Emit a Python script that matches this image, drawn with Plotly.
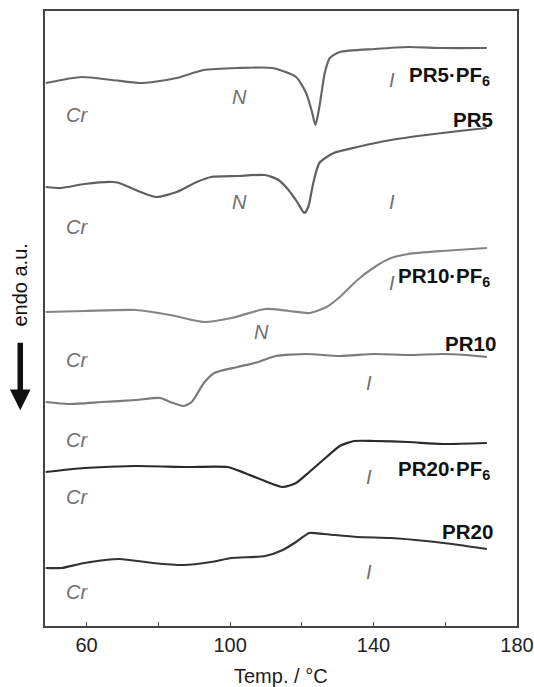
import plotly.graph_objects as go

# ---- data (temperature in °C, heat flow in arbitrary units, endo down) ----
t_pr5pf6 = [48.6, 58.6, 67.1, 74.8, 78.5, 85.1, 92.7, 102.1, 111.8, 118.4, 121.2, 122.7, 123.8,
            124.9, 126.4, 127.8, 130.6, 140.3, 149.7, 159.1, 171.6]
s_pr5pf6 = [543, 549, 546, 543, 544, 548, 556, 558, 558, 549, 533, 516, 501,
            519, 553, 568, 574, 577, 579, 578, 578]

t_pr5 = [48.6, 52.9, 59.4, 67.1, 69.1, 73.7, 79.4, 85.1, 90.7, 94.7, 102.1, 109.8, 113.5,
         116.3, 118.9, 120.7, 121.8, 123.2, 124.9, 128.9, 135.5, 144.9, 154.6, 163.9, 171.6]
s_pr5 = [439, 438, 442, 444, 443, 436, 429, 434, 444, 449, 450, 451, 446,
         436, 423, 413, 419, 443, 463, 473, 479, 486, 491, 495, 498]

t_pr10pf6 = [48.6, 59.4, 73.7, 83.3, 92.7, 100.4, 109.8, 116.4, 122.1, 126.9, 130.6,
             135.5, 140.3, 144.9, 149.7, 159.1, 171.6]
s_pr10pf6 = [314, 315, 316, 311, 304, 308, 317, 315, 313, 319, 329,
             346, 359, 368, 372, 375, 378]

t_pr10 = [48.6, 54.9, 64.3, 73.7, 80.5, 83.3, 87.0, 89.3, 92.7, 95.6, 102.1, 107.8,
          112.7, 121.2, 130.6, 140.3, 149.7, 159.1, 165.9, 171.6]
s_pr10 = [224, 222, 224, 226, 228, 224, 220, 224, 243, 253, 259, 264,
          270, 272, 270, 272, 271, 272, 271, 269]

t_pr20pf6 = [48.6, 59.4, 73.7, 87.9, 99.3, 104.1, 109.0, 114.7, 118.4, 122.1, 126.9,
             130.6, 134.6, 140.3, 149.7, 159.1, 171.6]
s_pr20pf6 = [154, 158, 160, 159, 159, 153, 146, 139, 143, 154, 169,
             180, 185, 185, 184, 182, 183]

t_pr20 = [48.6, 52.9, 59.4, 69.1, 78.5, 87.0, 94.7, 100.4, 109.8, 114.7, 118.4, 122.1,
          126.1, 135.5, 144.9, 154.6, 163.9, 171.6]
s_pr20 = [58, 58, 63, 67, 63, 61, 64, 68, 70, 76, 84, 93,
          92, 89, 88, 85, 81, 77]

series_names = ["PR5·PF<sub>6</sub>", "PR5", "PR10·PF<sub>6</sub>", "PR10",
                "PR20·PF<sub>6</sub>", "PR20"]
series_t = [t_pr5pf6, t_pr5, t_pr10pf6, t_pr10, t_pr20pf6, t_pr20]
series_s = [s_pr5pf6, s_pr5, s_pr10pf6, s_pr10, s_pr20pf6, s_pr20]
series_colors = ["#666666", "#606060", "#858585", "#7a7a7a", "#2b2b2b", "#333333"]

# name label anchors (right edge T, signal)
name_t = [173.0, 174.0, 173.0, 174.8, 173.1, 174.0]
name_s = [550, 507, 349, 283, 156, 95]

# phase labels
phase_text = ["Cr", "Cr", "Cr", "Cr", "Cr", "Cr",
              "N", "N", "N",
              "I", "I", "I", "I", "I", "I"]
phase_t = [57.2, 57.2, 57.2, 57.2, 57.2, 57.2,
           102.7, 102.7, 108.8,
           145.1, 145.2, 145.2, 138.7, 138.6, 138.6]
phase_s = [511, 399, 266, 186, 129, 34,
           529, 424, 294,
           546, 424, 343, 243, 149, 54]

x_major = [60, 100, 140, 180]
x_minor = [80, 120, 160]
x_title = "Temp. / °C"
y_title = "endo a.u."

FONT = "Liberation Sans, Arial, sans-serif"

fig = go.Figure()
for t, s, c in zip(series_t, series_s, series_colors):
    fig.add_trace(go.Scatter(x=t, y=s, mode="lines",
                             line=dict(color=c, width=2.2, shape="spline", smoothing=0.6),
                             showlegend=False, hoverinfo="skip"))

for nm, tx, sy in zip(series_names, name_t, name_s):
    fig.add_annotation(x=tx, y=sy, xref="x", yref="y", text="<b>" + nm + "</b>",
                       showarrow=False, xanchor="right", yanchor="middle",
                       font=dict(family=FONT, size=20.5, color="#111111"))

for txt, tx, sy in zip(phase_text, phase_t, phase_s):
    fig.add_annotation(x=tx, y=sy, xref="x", yref="y", text="<i>" + txt + "</i>",
                       showarrow=False, xanchor="center", yanchor="middle",
                       font=dict(family=FONT, size=20, color="#707070"))

# axis titles and arrow
fig.add_annotation(x=0.501, y=-0.0813, xref="paper", yref="paper", text=x_title,
                   showarrow=False, xanchor="center", yanchor="middle",
                   font=dict(family=FONT, size=20, color="#222222"))
fig.add_annotation(x=-0.0524, y=0.554, xref="paper", yref="paper", text=y_title,
                   textangle=-90, showarrow=False, xanchor="center", yanchor="middle",
                   font=dict(family=FONT, size=20, color="#111111"))
fig.add_annotation(x=-0.0524, y=0.351, xref="paper", yref="paper", text="",
                   showarrow=True, ax=0, ay=-69, axref="pixel", ayref="pixel",
                   arrowhead=2, arrowsize=0.75, arrowwidth=5.5, arrowcolor="#111111")

fig.update_layout(
    width=534, height=687,
    margin=dict(l=45, r=17, t=11, b=61, autoexpand=False),
    paper_bgcolor="white", plot_bgcolor="white",
    font=dict(family=FONT, size=20, color="#222222"),
    xaxis=dict(range=[48.4, 180], tickvals=x_major, automargin=False,
               ticks="inside", ticklen=4, tickwidth=1.3, tickcolor="#444444",
               minor=dict(tickvals=x_minor, ticks="inside", ticklen=4, tickwidth=1.3,
                          tickcolor="#444444", showgrid=False),
               showline=True, mirror=True, linecolor="#444444", linewidth=1.5,
               showgrid=False, zeroline=False,
               tickfont=dict(size=20, color="#222222")),
    yaxis=dict(range=[0, 615], showticklabels=False, ticks="", automargin=False,
               showline=True, mirror=True, linecolor="#444444", linewidth=1.5,
               showgrid=False, zeroline=False),
)

fig.write_html("out.html")
